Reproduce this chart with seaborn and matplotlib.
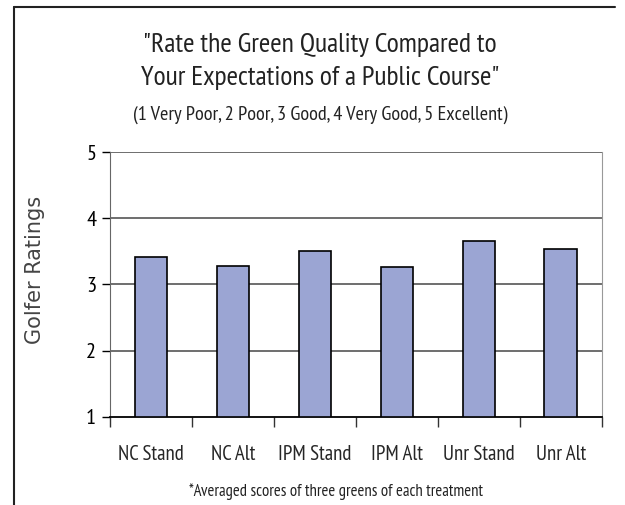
import matplotlib
matplotlib.use("Agg")
import matplotlib.pyplot as plt
import seaborn as sns
import numpy as np
import pandas as pd
from matplotlib.lines import Line2D
import matplotlib.ticker as ticker

# data
treatments = ['NC Stand', 'NC Alt', 'IPM Stand', 'IPM Alt', 'Unr Stand', 'Unr Alt']
ratings = [3.42, 3.28, 3.50, 3.26, 3.65, 3.54]
y_ticks = [1, 2, 3, 4, 5]

df = pd.DataFrame({'treatment': treatments, 'rating': ratings})

sns.set_style('white')
narrow = ['PT Sans Narrow', 'DejaVu Sans']
plt.rcParams['font.family'] = narrow

fig = plt.figure(figsize=(6.25, 5.05), dpi=100)
ax = fig.add_axes([0.176, 0.1743, 0.787, 0.5247])

# bars start at 1, so plot from bottom=1
sns.barplot(data=df, x='treatment', y='rating', color='#9BA5D3', saturation=1,
            edgecolor='black', linewidth=1.2, width=0.4, ax=ax, zorder=3)
for p in ax.patches:
    h = p.get_height()
    p.set_y(1)
    p.set_height(h - 1)

ax.set_xlim(-0.5, 5.5)
ax.set_ylim(1, 5)
ax.set_yticks(y_ticks)
ax.set_yticklabels([str(v) for v in y_ticks], fontsize=16, family=narrow)
ax.tick_params(axis='y', left=True, direction='out', length=6, width=1, colors='black', pad=4)

# x tick marks sit between the bars
ax.set_xticks(range(len(treatments)))
ax.set_xticklabels(treatments, fontsize=15, family=narrow)
ax.tick_params(axis='x', which='major', length=0, pad=20)
ax.xaxis.set_minor_locator(ticker.FixedLocator(np.arange(-0.5, 6, 1)))
ax.tick_params(axis='x', which='minor', bottom=True, direction='out', length=7, width=1, color='#333333')

for v in [2, 3, 4, 5]:
    ax.axhline(v, color='#555555', linewidth=1.2, zorder=1)

ax.spines['top'].set_visible(False)
ax.spines['left'].set_color('#666666')
ax.spines['right'].set_color('#999999')
ax.spines['bottom'].set_color('black')
ax.spines['bottom'].set_linewidth(1.3)

ax.set_xlabel('')
ax.set_ylabel('Golfer Ratings', fontsize=15, family='DejaVu Sans', color='#444444')
ax.yaxis.set_label_coords(-0.132, 0.555)

fig.text(0.512, 0.91, '"Rate the Green Quality Compared to', ha='center', va='center', fontsize=20, color='#222222')
fig.text(0.512, 0.845, 'Your Expectations of a Public Course"', ha='center', va='center', fontsize=20, color='#222222')
fig.text(0.512, 0.772, '(1 Very Poor, 2 Poor, 3 Good, 4 Very Good, 5 Excellent)', ha='center', va='center', fontsize=14.6, color='#222222')
fig.text(0.538, 0.026, '*Averaged scores of three greens of each treatment', ha='center', va='center', fontsize=12, color='#222222')

# outer frame lines (top and left)
fig.add_artist(Line2D([14 / 625, 615 / 625], [1 - 7 / 505, 1 - 7 / 505], color='#222222', linewidth=1.5))
fig.add_artist(Line2D([14 / 625, 14 / 625], [0, 1 - 7 / 505], color='#222222', linewidth=1.5))

fig.savefig('out.png', dpi=100)
